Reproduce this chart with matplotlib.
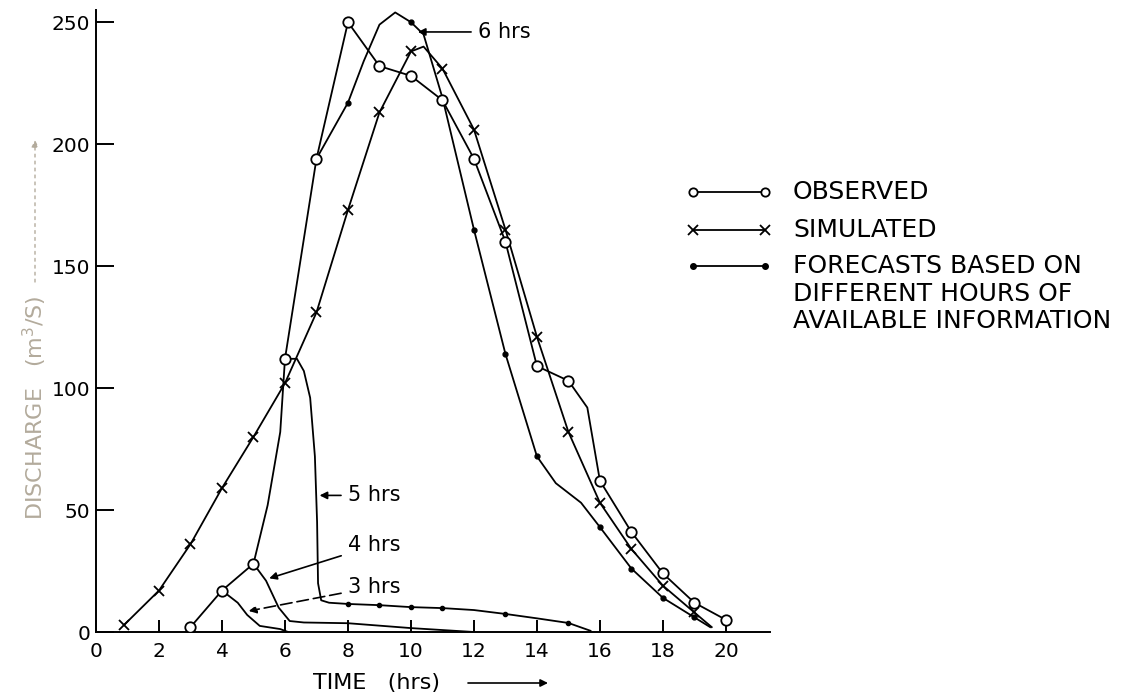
import matplotlib
matplotlib.use('Agg')
import matplotlib.pyplot as plt
from matplotlib.lines import Line2D

# observed hydrograph (circles at whole hours)
obs_t = [3, 4, 5, 5.45, 5.85, 6, 7, 8, 9, 10, 11, 12, 13, 14, 15, 15.6, 16, 17, 18, 19, 20]
obs_q = [2, 17, 28, 52, 82, 112, 194, 250, 232, 228, 218, 194, 160, 109, 103, 92, 62, 41, 24, 12, 5]

# simulated hydrograph (crosses)
sim_t = [0.9, 2, 3, 4, 5, 6, 7, 8, 9, 10, 10.4, 11, 12, 13, 14, 15, 16, 17, 18, 19, 19.55]
sim_q = [3, 17, 36, 59, 80, 102, 131, 173, 213, 238, 240, 231, 206, 165, 121, 82, 53, 34, 19, 8, 2]

# forecasts from 3, 4, 5 and 6 hours of information
fc3_t = [4, 4.5, 4.8, 5.2, 5.85, 6.1]
fc3_q = [17, 12, 7, 2.5, 1.2, 0]

fc4_t = [5, 5.4, 5.8, 6.15, 6.6, 8, 10, 12]
fc4_q = [28, 21, 10, 4.5, 3.9, 3.6, 1.6, 0]

fc5_t = [6, 6.38, 6.6, 6.8, 6.95, 7.02, 7.05, 7.15, 7.4, 8, 9, 10, 11, 12, 13, 14, 15, 15.7]
fc5_q = [112, 112, 107, 96, 72, 45, 20, 13, 12, 11.5, 11, 10.2, 9.8, 9, 7.4, 5.6, 3.7, 0.5]
fc5_dots = [8, 9, 10, 11, 13, 15]

fc6_t = [7, 8, 8.5, 9, 9.5, 10, 10.4, 11, 12, 13, 14, 14.6, 15.4, 16, 17, 18, 19, 19.5]
fc6_q = [194, 217, 234, 249, 254, 250, 245, 219, 165, 114, 72, 61, 53, 43, 26, 14, 6, 2]
fc6_dots = [8, 10, 11, 12, 13, 14, 16, 17, 18, 19]

x_ticks = [0, 2, 4, 6, 8, 10, 12, 14, 16, 18, 20]
y_ticks = [0, 50, 100, 150, 200, 250]


def marks(t, hours):
    return [i for i, v in enumerate(t) if v in hours]


W, H = 1144, 697
fig = plt.figure(figsize=(W / 100, H / 100), dpi=100)
ax = fig.add_axes([96 / W, 65 / H, 674 / W, 622 / H])

lw = 1.3
ax.plot(fc3_t, fc3_q, color='k', lw=lw, zorder=2)
ax.plot(fc4_t, fc4_q, color='k', lw=lw, zorder=2)
ax.plot(fc5_t, fc5_q, color='k', lw=lw, marker='o', ms=3,
        markevery=marks(fc5_t, fc5_dots), zorder=2)
ax.plot(fc6_t, fc6_q, color='k', lw=lw, marker='o', ms=3.5,
        markevery=marks(fc6_t, fc6_dots), zorder=2)
ax.plot(sim_t, sim_q, color='k', lw=lw, marker='x', ms=6.5, mew=1.3,
        markevery=marks(sim_t, [0.9] + list(range(2, 20))), zorder=3)
ax.plot(obs_t, obs_q, color='k', lw=lw, marker='o', ms=7.5, mfc='white',
        mec='k', mew=1.3, markevery=marks(obs_t, list(range(3, 21))), zorder=4)

ax.set_xlim(0, 21.4)
ax.set_ylim(0, 255)
ax.set_xticks(x_ticks)
ax.set_yticks(y_ticks)
for s in ['top', 'right']:
    ax.spines[s].set_visible(False)
for s in ['left', 'bottom']:
    ax.spines[s].set_linewidth(1.4)
ax.tick_params(axis='x', direction='in', length=9, width=1.4, labelsize=14.5, pad=7)
ax.tick_params(axis='y', direction='in', length=13, width=1.4, labelsize=14.5, pad=4)

# hour labels with arrows
arr = dict(arrowstyle='-|>', color='k', lw=1.2, mutation_scale=11, shrinkA=3, shrinkB=0)
ax.annotate('6 hrs', xy=(10.22, 246), xytext=(12.13, 246), fontsize=15,
            va='center', ha='left', arrowprops=arr)
ax.annotate('5 hrs', xy=(7.1, 56), xytext=(8.0, 56), fontsize=15,
            va='center', ha='left', arrowprops=arr)
ax.annotate('4 hrs', xy=(5.5, 22), xytext=(8.0, 35.5), fontsize=15,
            va='center', ha='left', arrowprops=arr)
ax.annotate('3 hrs', xy=(4.85, 8.6), xytext=(8.0, 18.5), fontsize=15,
            va='center', ha='left',
            arrowprops=dict(arr, linestyle=(0, (7, 3))))

# axis titles
fig.text(313 / W, 1 - 683 / H, 'TIME   (hrs)', fontsize=16, ha='left', va='center')
ax.annotate('', xy=(548 / W, 1 - 683 / H), xytext=(468 / W, 1 - 683 / H),
            xycoords='figure fraction', textcoords='figure fraction',
            arrowprops=dict(arrowstyle='-|>', color='k', lw=1.2, mutation_scale=11,
                            shrinkA=0, shrinkB=0))
faint = '#b3ab9c'
fig.text(35 / W, 1 - 408 / H, 'DISCHARGE   (m$^3$/S)', fontsize=16, rotation=90,
         ha='center', va='center', color=faint)
ax.annotate('', xy=(35 / W, 1 - 140 / H), xytext=(35 / W, 1 - 282 / H),
            xycoords='figure fraction', textcoords='figure fraction',
            arrowprops=dict(arrowstyle='-|>', color=faint, lw=1.0, linestyle=(0, (2, 3)),
                            mutation_scale=10, shrinkA=0, shrinkB=0))

# legend drawn by hand
rows = [
    (192, dict(marker='o', ms=6, mfc='white', mec='k', mew=1.3), 'OBSERVED'),
    (230, dict(marker='x', ms=7, mew=1.3), 'SIMULATED'),
    (266, dict(marker='o', ms=4), 'FORECASTS BASED ON'),
]
for y, style, label in rows:
    fig.add_artist(Line2D([693 / W, 765 / W], [1 - y / H, 1 - y / H],
                          transform=fig.transFigure, color='k', lw=lw, **style))
    fig.text(793 / W, 1 - y / H, label, fontsize=18, ha='left', va='center')
fig.text(793 / W, 1 - 294 / H, 'DIFFERENT HOURS OF', fontsize=18, ha='left', va='center')
fig.text(793 / W, 1 - 321 / H, 'AVAILABLE INFORMATION', fontsize=18, ha='left', va='center')

fig.savefig('out.png', dpi=100)
